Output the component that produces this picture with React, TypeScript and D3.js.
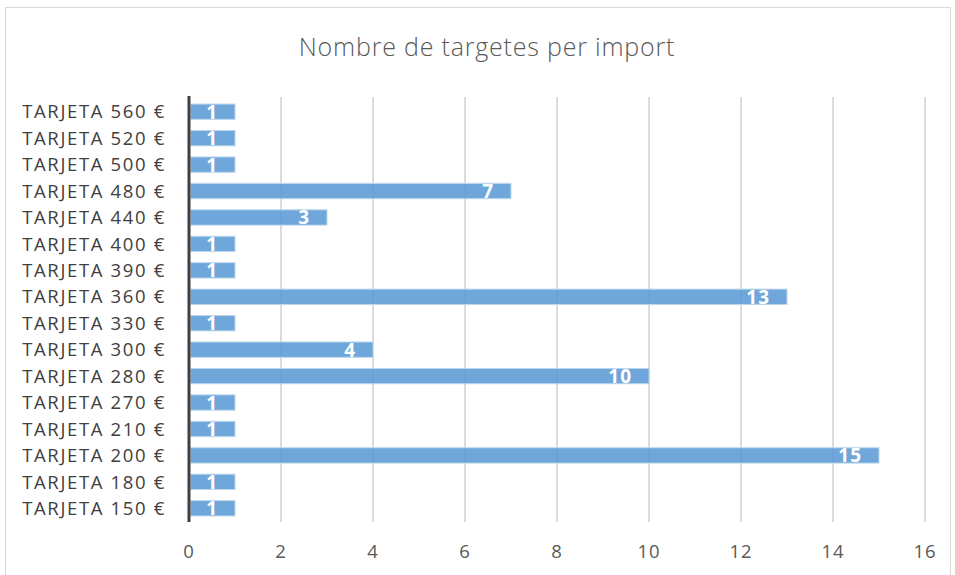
import React from "react";
import * as d3 from "d3";

const categories = [
  "TARJETA 560 €", "TARJETA 520 €", "TARJETA 500 €", "TARJETA 480 €",
  "TARJETA 440 €", "TARJETA 400 €", "TARJETA 390 €", "TARJETA 360 €",
  "TARJETA 330 €", "TARJETA 300 €", "TARJETA 280 €", "TARJETA 270 €",
  "TARJETA 210 €", "TARJETA 200 €", "TARJETA 180 €", "TARJETA 150 €",
];
const values = [1, 1, 1, 7, 3, 1, 1, 13, 1, 4, 10, 1, 1, 15, 1, 1];
const xTicks = [0, 2, 4, 6, 8, 10, 12, 14, 16];
const title = "Nombre de targetes per import";

export default function App() {
  const W = 955, H = 575;
  const x = d3.scaleLinear().domain([0, 16]).range([189, 925]);
  const y = d3.scaleBand<string>().domain(categories).range([98.5, 521.5]).paddingInner(0.42).paddingOuter(0.21);
  const font = "'Open Sans', 'Noto Sans', sans-serif";
  return (
    <svg width={W} height={H} style={{ position: "absolute", left: 0, top: 0, background: "#fff" }}>
      <rect x={5.5} y={7.5} width={945} height={580} fill="#fff" stroke="#d9d9d9" strokeWidth={1} />
      <text x={487} y={56} textAnchor="middle" fontFamily={font} fontWeight={300} fontSize={25} letterSpacing={0.8} fill="#595959">{title}</text>
      {xTicks.map((t) => (
        <g key={t}>
          {t > 0 && <line x1={x(t)} x2={x(t)} y1={97} y2={522} stroke="#c8c8c8" strokeWidth={1.3} />}
          <text x={x(t)} y={558} textAnchor="middle" fontFamily={font} fontSize={18.5} letterSpacing={0.8} fill="#595959">{t}</text>
        </g>
      ))}
      {categories.map((c, i) => {
        const yy = y(c)!;
        const bh = y.bandwidth();
        const xe = x(values[i]);
        return (
          <g key={c}>
            <rect x={x(0) + 1.5} y={yy} width={xe - x(0) - 1.5} height={bh} fill="#5b9bd5" fillOpacity={0.88} stroke="#bdd7ee" strokeWidth={1} />
            <text x={166} y={yy + bh / 2} dy="0.36em" textAnchor="end" fontFamily={font} fontSize={18.5} letterSpacing={1.65} fill="#404040">{c}</text>
            <text x={xe - 17} y={yy + bh / 2} dy="0.37em" textAnchor="end" fontFamily={font} fontWeight={700} fontSize={19} letterSpacing={1} fill="#fff">{values[i]}</text>
          </g>
        );
      })}
      <line x1={x(0)} x2={x(0)} y1={96} y2={522} stroke="#404040" strokeWidth={3} />
    </svg>
  );
}
